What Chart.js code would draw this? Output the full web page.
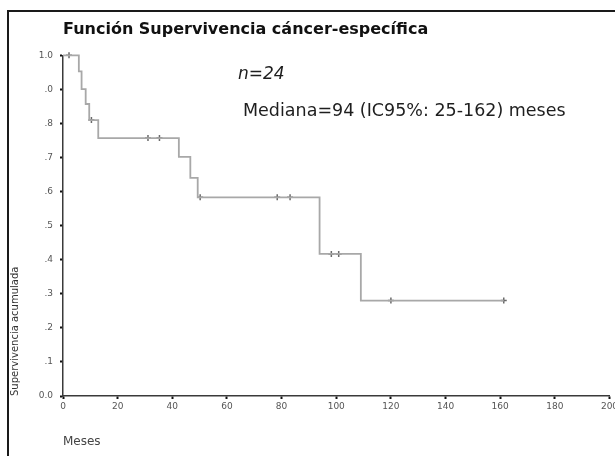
<!DOCTYPE html>
<html>
<head>
<meta charset="utf-8">
<style>
  html, body { margin: 0; padding: 0; background: #fff; overflow: hidden; }
  #wrap { width: 615px; height: 456px; position: relative; }
</style>
<script src="https://cdn.jsdelivr.net/npm/chart.js@4.4.1/dist/chart.umd.min.js"></script>
</head>
<body>
<div id="wrap"><canvas id="km" width="615" height="456"></canvas></div>
<script>
// Kaplan-Meier estimate: month of each step and cumulative survival after it
const stepTimes    = [0, 5.8, 6.8, 8.3, 9.6, 12.9, 42.4, 46.6, 49.3, 93.9, 109.0, 161.3];
const stepSurvival = [1.0, 0.953, 0.901, 0.857, 0.810, 0.757, 0.702, 0.640, 0.583, 0.417, 0.280, 0.280];

// Censored follow-up times (months)
const censoredTimes = [2.2, 10.4, 31.1, 35.3, 50.2, 78.4, 83.1, 98.2, 100.9, 120.0, 161.3];

// Axis tick values and labels
const xTickValues = [0, 20, 40, 60, 80, 100, 120, 140, 160, 180, 200];
const yTickLabels = ['0.0', '.1', '.2', '.3', '.4', '.5', '.6', '.7', '.8', '.0', '1.0'];

const titleText = 'Función Supervivencia cáncer-específica';
const noteN = 'n=24';
const noteMedian = 'Mediana=94 (IC95%: 25-162) meses';

// survival value of the step curve at time t
function survivalAt(t) {
  let s = stepSurvival[0];
  for (let i = 0; i < stepTimes.length; i++) {
    if (stepTimes[i] <= t) s = stepSurvival[i];
  }
  return s;
}

const curvePoints = stepTimes.map((t, i) => ({ x: t, y: stepSurvival[i] }));
const censorPoints = censoredTimes.map(t => ({ x: t, y: survivalAt(t) }));

const FONT = 'DejaVu Sans';

// outer frame and white background
const framePlugin = {
  id: 'frame',
  beforeDraw(chart) {
    const ctx = chart.ctx;
    ctx.save();
    ctx.fillStyle = '#fff';
    ctx.fillRect(0, 0, chart.width, chart.height);
    ctx.strokeStyle = '#1a1a1a';
    ctx.lineWidth = 2;
    ctx.strokeRect(8, 11, chart.width + 40, chart.height + 40);
    ctx.restore();
  }
};

// sample size and median annotations
const notesPlugin = {
  id: 'notes',
  afterDraw(chart) {
    const ctx = chart.ctx;
    ctx.save();
    ctx.fillStyle = '#1e1e1e';
    ctx.textBaseline = 'middle';
    ctx.textAlign = 'left';
    ctx.font = 'oblique 17px "' + FONT + '"';
    ctx.fillText(noteN, 238, 75);
    ctx.font = '17.5px "' + FONT + '"';
    ctx.fillText(noteMedian, 243, 111);
    ctx.restore();
  }
};

new Chart(document.getElementById('km'), {
  type: 'scatter',
  data: {
    datasets: [
      {
        data: curvePoints,
        showLine: true,
        stepped: true,
        borderColor: '#a8a8a8',
        borderWidth: 1.8,
        pointRadius: 0,
        clip: false
      },
      {
        data: censorPoints,
        showLine: false,
        pointStyle: 'cross',
        pointRadius: 3,
        borderColor: '#6a6a6a',
        borderWidth: 1.5,
        clip: false
      }
    ]
  },
  options: {
    responsive: false,
    animation: false,
    events: [],
    layout: { padding: { left: 0, right: 3, top: 0, bottom: 0 } },
    plugins: {
      legend: { display: false },
      tooltip: { enabled: false },
      title: {
        display: true,
        text: titleText,
        align: 'start',
        fullSize: false,
        color: '#111',
        font: { family: FONT, size: 16, weight: 'bold', lineHeight: 1.2 },
        padding: { top: 20, bottom: 16.1 }
      }
    },
    scales: {
      x: {
        type: 'linear',
        min: 0,
        max: 200,
        afterBuildTicks: s => { s.ticks = xTickValues.map(v => ({ value: v })); },
        afterFit: s => { s.height = 60; s.paddingLeft = 0; s.paddingRight = 0; },
        grid: { drawOnChartArea: false, drawTicks: true, tickLength: 3, tickWidth: 2, tickColor: '#111' },
        border: { display: true, color: '#3a3a3a', width: 1.5 },
        ticks: { font: { family: FONT, size: 9 }, color: '#555', padding: 2, maxRotation: 0, autoSkip: false },
        title: {
          display: true, text: 'Meses', align: 'start', color: '#444',
          font: { family: FONT, size: 12 }, padding: { top: 0, bottom: 7 }
        }
      },
      y: {
        type: 'linear',
        min: 0,
        max: 1,
        afterFit: s => { s.width = 63; s.paddingTop = 0; s.paddingBottom = 0; },
        grid: { drawOnChartArea: false, drawTicks: true, tickLength: 3, tickWidth: 2, tickColor: '#111' },
        border: { display: true, color: '#3a3a3a', width: 1.5 },
        ticks: {
          stepSize: 0.1,
          font: { family: FONT, size: 9 }, color: '#555', padding: 7,
          callback: (v, i) => yTickLabels[i]
        },
        title: {
          display: true, text: 'Supervivencia acumulada', align: 'start', color: '#333',
          font: { family: FONT, size: 10 }, padding: { top: 9, bottom: 0 }
        }
      }
    }
  },
  plugins: [framePlugin, notesPlugin]
});
</script>
</body>
</html>
